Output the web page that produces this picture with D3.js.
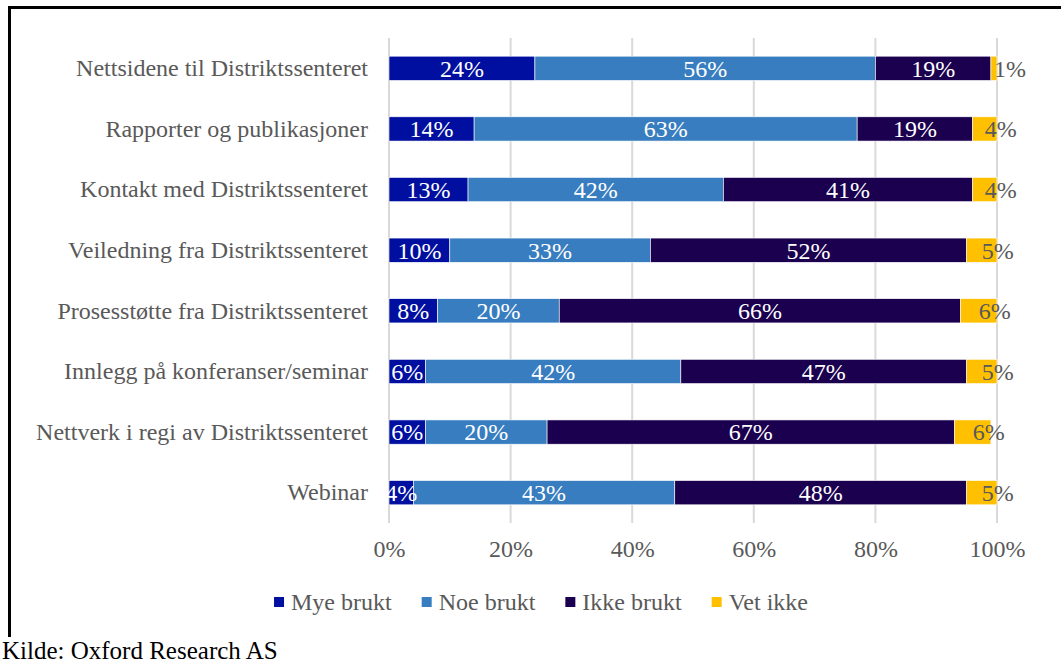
<!DOCTYPE html>
<html>
<head>
<meta charset="utf-8">
<script src="https://cdn.jsdelivr.net/npm/d3@7"></script>
<style>
  html, body { margin: 0; padding: 0; background: #fff; }
  svg { display: block; }
  svg text { font-family: 'Liberation Serif', 'Times New Roman', serif; }
</style>
</head>
<body>
<svg id="chart" width="1061" height="665"></svg>
<script>
// Categories (top to bottom)
const categories = [
  "Nettsidene til Distriktssenteret",
  "Rapporter og publikasjoner",
  "Kontakt med Distriktssenteret",
  "Veiledning fra Distriktssenteret",
  "Prosesstøtte fra Distriktssenteret",
  "Innlegg på konferanser/seminar",
  "Nettverk i regi av Distriktssenteret",
  "Webinar"
];

// Series names and shares (%)
const seriesNames = ["Mye brukt", "Noe brukt", "Ikke brukt", "Vet ikke"];
const myeBrukt  = [24, 14, 13, 10, 8, 6, 6, 4];
const noeBrukt  = [56, 63, 42, 33, 20, 42, 20, 43];
const ikkeBrukt = [19, 19, 41, 52, 66, 47, 67, 48];
const vetIkke   = [1, 4, 4, 5, 6, 5, 6, 5];

const tickValues = [0, 20, 40, 60, 80, 100];
const sourceNote = "Kilde: Oxford Research AS";

const colors = ["#000F9F", "#387DBF", "#1A004F", "#FFC000"];
const labelColors = ["#FFFFFF", "#FFFFFF", "#FFFFFF", "#595959"];

const rows = categories.map((c, i) => ({
  category: c,
  "Mye brukt": myeBrukt[i],
  "Noe brukt": noeBrukt[i],
  "Ikke brukt": ikkeBrukt[i],
  "Vet ikke": vetIkke[i]
}));

const stacked = d3.stack().keys(seriesNames)(rows);

const svg = d3.select("#chart");
const gray = "#595959";
const serif = "'Liberation Serif', 'Times New Roman', serif";
const fs = 24;

// Outer frame (top and left edges)
svg.append("line").attr("x1", 8).attr("x2", 1061).attr("y1", 7.5).attr("y2", 7.5)
  .attr("stroke", "#000").attr("stroke-width", 3);
svg.append("line").attr("x1", 9.5).attr("x2", 9.5).attr("y1", 6).attr("y2", 637)
  .attr("stroke", "#000").attr("stroke-width", 3);

const x = d3.scaleLinear().domain([0, 100]).range([389, 997]);
const y = d3.scaleBand().domain(categories).range([38, 523])
  .paddingInner(0.6).paddingOuter(0.3);

// Vertical gridlines
svg.append("g").selectAll("line").data(tickValues).join("line")
  .attr("x1", d => x(d)).attr("x2", d => x(d))
  .attr("y1", 38).attr("y2", 523)
  .attr("stroke", "#D9D9D9").attr("stroke-width", 2);

// Stacked bars
const layers = svg.append("g").selectAll("g").data(stacked).join("g")
  .attr("fill", (d, i) => colors[i]);

layers.selectAll("rect").data(d => d).join("rect")
  .attr("x", d => x(d[0]))
  .attr("y", d => y(d.data.category))
  .attr("width", d => x(d[1]) - x(d[0]))
  .attr("height", y.bandwidth())
  .attr("stroke", "#fff").attr("stroke-width", 0.6);

// Value labels
stacked.forEach((layer, si) => {
  svg.append("g").selectAll("text").data(layer).join("text")
    .attr("x", d => (x(d[0]) + x(d[1])) / 2 + (si === 3 ? 16 : 0))
    .attr("y", d => y(d.data.category) + y.bandwidth() / 2)
    .attr("dy", "0.35em")
    .attr("text-anchor", "middle")
    .attr("font-family", serif)
    .attr("font-size", fs)
    .attr("fill", labelColors[si])
    .text(d => (d[1] - d[0]) + "%");
});

// Category axis
const yAxis = svg.append("g").attr("transform", "translate(368,0)")
  .call(d3.axisLeft(y).tickSize(0).tickPadding(0));
yAxis.attr("font-family", serif).attr("font-size", fs);
yAxis.select(".domain").remove();
yAxis.selectAll("text").attr("fill", gray);

// Percentage axis
const xAxis = svg.append("g").attr("transform", "translate(0,540)")
  .call(d3.axisBottom(x).tickValues(tickValues).tickFormat(d => d + "%")
    .tickSize(0).tickPadding(0));
xAxis.attr("font-family", serif).attr("font-size", fs);
xAxis.select(".domain").remove();
xAxis.selectAll("text").attr("fill", gray);

// Legend
const legend = svg.append("g");
let cx = 0;
seriesNames.forEach((name, i) => {
  const g = legend.append("g").attr("transform", `translate(${cx},0)`);
  g.append("rect").attr("x", 0).attr("y", -5).attr("width", 10).attr("height", 10)
    .attr("fill", colors[i]);
  const t = g.append("text").attr("x", 17).attr("y", 0).attr("dy", "0.35em")
    .attr("font-family", serif)
    .attr("font-size", fs).attr("fill", gray).text(name);
  cx += 17 + t.node().getComputedTextLength() + 30;
});
const legendWidth = cx - 30;
legend.attr("transform", `translate(${541 - legendWidth / 2},602)`);

// Source note
svg.append("text").attr("x", 2).attr("y", 659)
  .attr("font-family", serif)
  .attr("font-size", 25).attr("fill", "#000").text(sourceNote);
</script>
</body>
</html>
